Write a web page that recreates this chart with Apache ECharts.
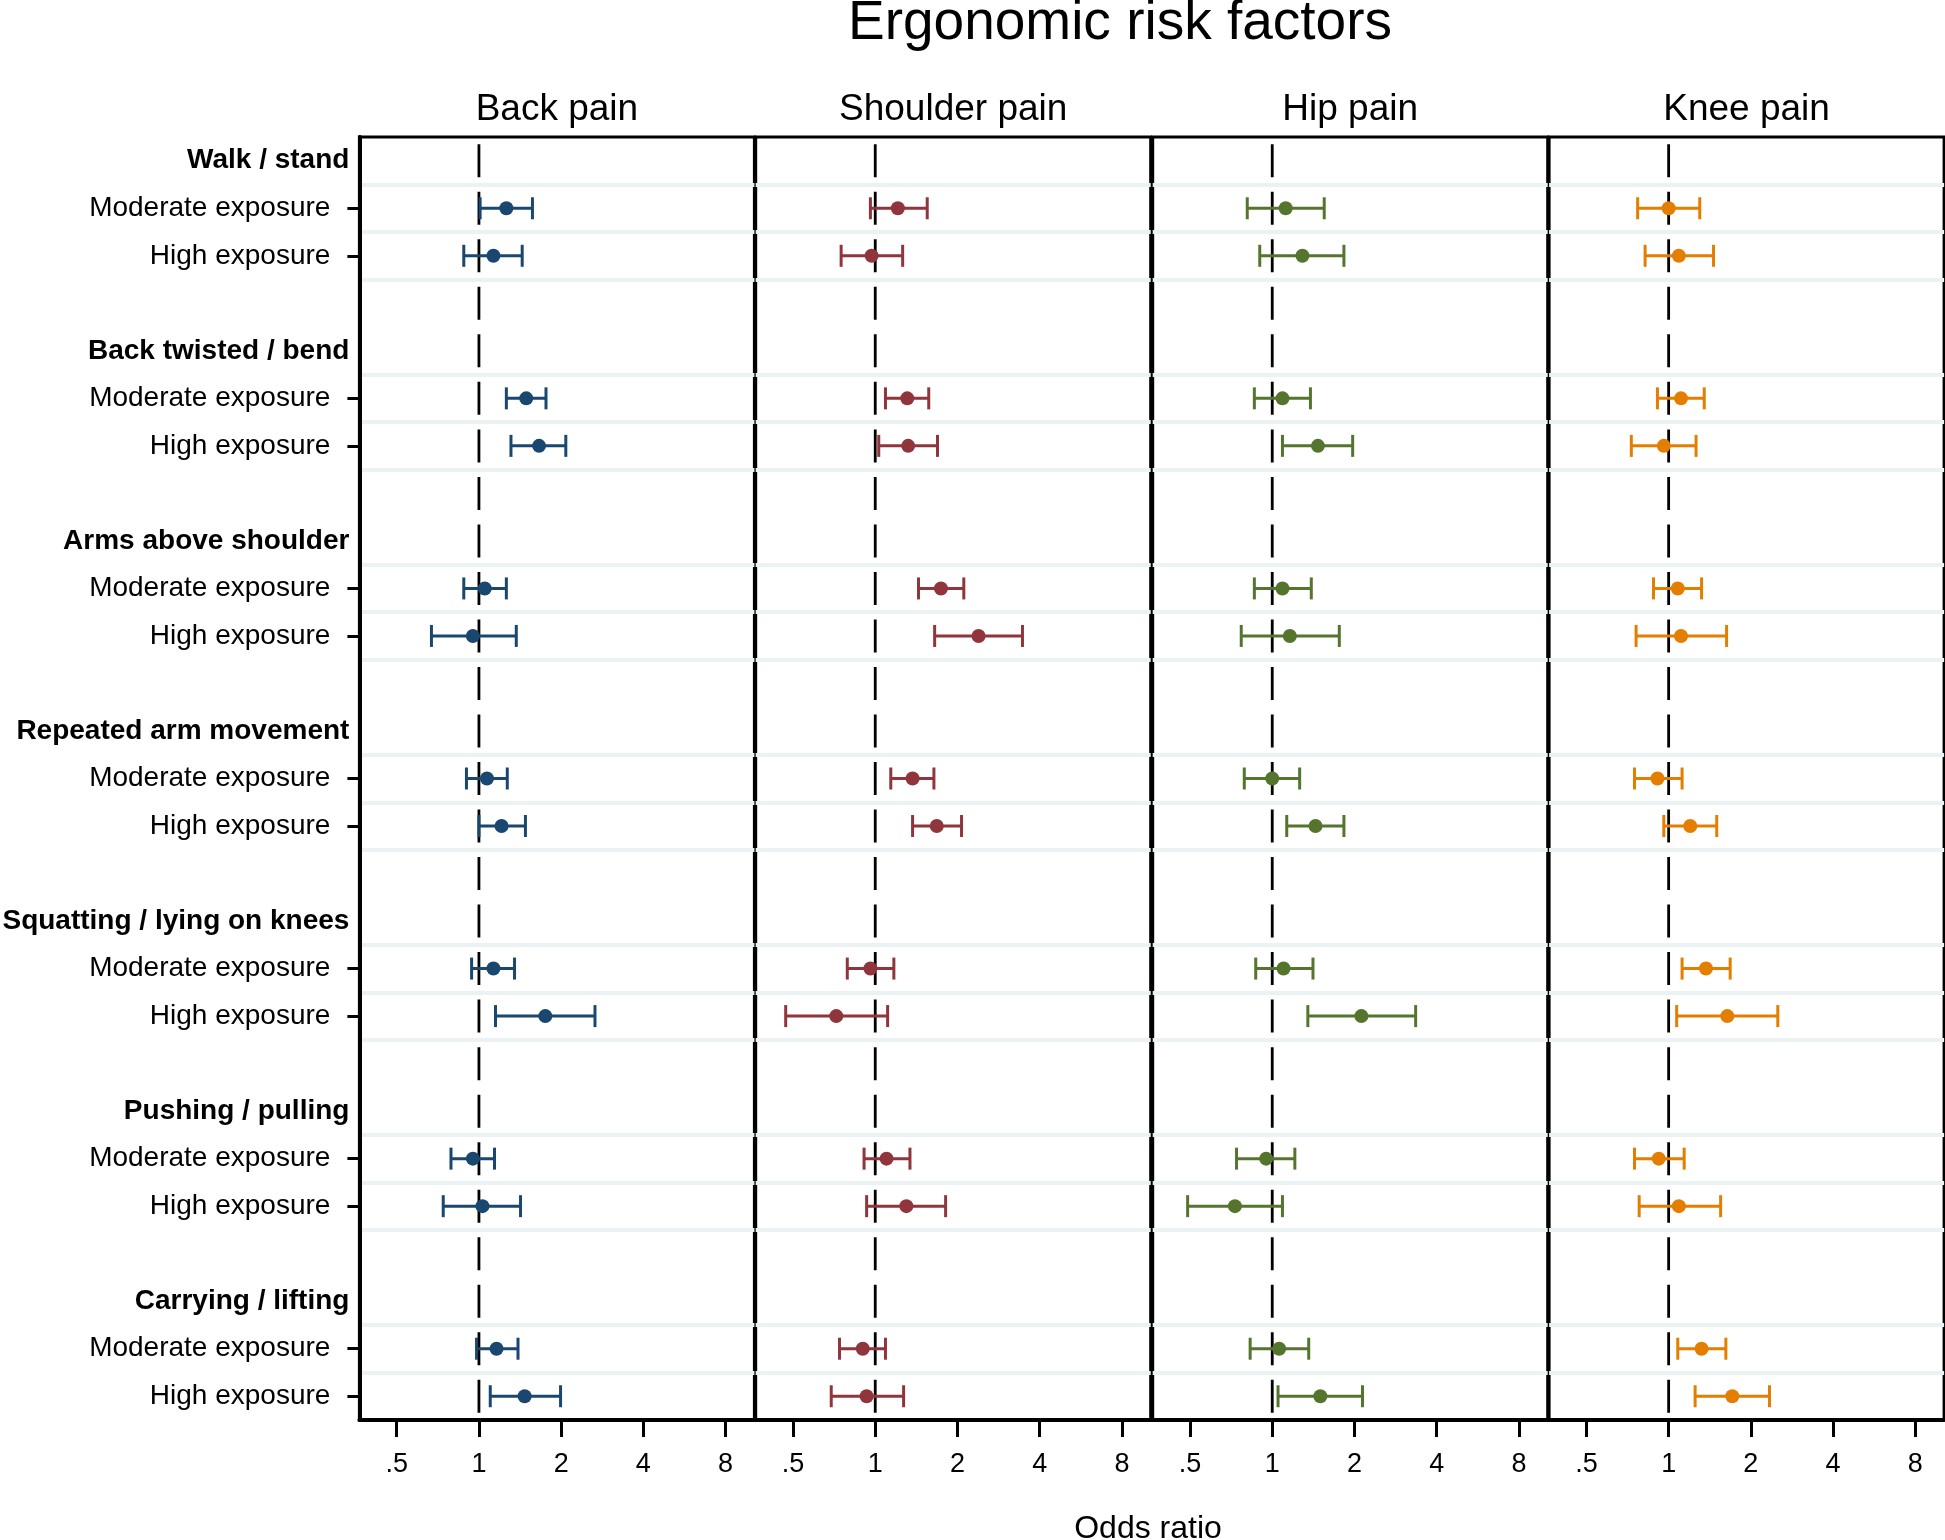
<!DOCTYPE html>
<html><head><meta charset="utf-8">
<script src="https://cdn.jsdelivr.net/npm/echarts@6/dist/echarts.min.js"></script>
<style>html,body{margin:0;padding:0;background:#fff}#c{width:1945px;height:1540px}#err{position:absolute;left:400px;top:300px;font:14px monospace;color:red;white-space:pre;z-index:9}</style>
</head><body><div id="c"></div><div id="err"></div>
<script>
window.onerror = function (m, s, l, c, e) { document.getElementById('err').textContent += (e && e.stack ? e.stack : m) + '\n'; };
// ---------- data ----------
const factors = ['Walk / stand','Back twisted / bend','Arms above shoulder','Repeated arm movement','Squatting / lying on knees','Pushing / pulling','Carrying / lifting'];
const exposures = ['Moderate exposure','High exposure'];
const outcomes = ['Back pain','Shoulder pain','Hip pain','Knee pain'];
const xTickValues = [0.5, 1, 2, 4, 8];
const nullOddsRatio = [1];
// order within each array: factor by factor, moderate then high
const backOR = [1.26,1.13, 1.49,1.66, 1.05,0.95, 1.07,1.21, 1.13,1.75, 0.95,1.03, 1.16,1.47];
const backLo = [1.01,0.88, 1.26,1.31, 0.88,0.67, 0.90,1.00, 0.94,1.15, 0.79,0.74, 0.98,1.10];
const backHi = [1.57,1.44, 1.76,2.08, 1.26,1.37, 1.27,1.48, 1.35,2.66, 1.14,1.42, 1.39,1.99];
const shoulderOR = [1.21,0.97, 1.31,1.32, 1.74,2.39, 1.37,1.68, 0.96,0.72, 1.10,1.30, 0.90,0.93];
const shoulderLo = [0.96,0.75, 1.09,1.03, 1.44,1.65, 1.14,1.37, 0.79,0.47, 0.91,0.93, 0.74,0.69];
const shoulderHi = [1.55,1.26, 1.57,1.69, 2.11,3.46, 1.64,2.07, 1.17,1.11, 1.34,1.81, 1.09,1.27];
const hipOR = [1.12,1.29, 1.09,1.47, 1.09,1.16, 1.00,1.44, 1.10,2.12, 0.95,0.73, 1.06,1.50];
const hipLo = [0.81,0.90, 0.86,1.09, 0.86,0.77, 0.79,1.13, 0.87,1.35, 0.74,0.49, 0.83,1.05];
const hipHi = [1.55,1.83, 1.38,1.97, 1.39,1.76, 1.26,1.83, 1.41,3.35, 1.21,1.09, 1.36,2.14];
const kneeOR = [1.00,1.09, 1.11,0.96, 1.08,1.11, 0.91,1.20, 1.37,1.64, 0.92,1.09, 1.32,1.71];
const kneeLo = [0.77,0.82, 0.91,0.73, 0.88,0.76, 0.75,0.96, 1.12,1.07, 0.75,0.78, 1.08,1.25];
const kneeHi = [1.30,1.46, 1.35,1.26, 1.32,1.63, 1.12,1.50, 1.68,2.51, 1.14,1.55, 1.62,2.34];

// ---------- build ----------
const panels = [
  {or: backOR, lo: backLo, hi: backHi, color: '#1a476f'},
  {or: shoulderOR, lo: shoulderLo, hi: shoulderHi, color: '#90353b'},
  {or: hipOR, lo: hipLo, hi: hipHi, color: '#55752f'},
  {or: kneeOR, lo: kneeLo, hi: kneeHi, color: '#e37e00'}
];
const rowKeys = [];
factors.forEach((f, g) => {
  rowKeys.push(f);
  exposures.forEach(e => rowKeys.push(f + '|' + e));
  if (g < factors.length - 1) rowKeys.push(f + '|');
});
function rowIndex(k) { const g = Math.floor(k / 2), e = k % 2; return 4 * g + 1 + e; }

const FONT = '"Liberation Sans", Arial, Helvetica, sans-serif';
const gridLefts = [359.4, 755.7, 1152.7, 1549.1];
const gridWidth = 395;
const gridTop = 137, gridHeight = 1283;
const xMin = 0.365, xMax = 10.2;

const grids = [], xAxes = [], yAxes = [], series = [], graphics = [];
gridLefts.forEach((L, i) => {
  grids.push({left: L, top: gridTop, width: gridWidth, height: gridHeight, show: true,
    borderColor: '#000', borderWidth: 3, backgroundColor: '#fff', containLabel: false, outerBoundsMode: 'none'});
  xAxes.push({type: 'log', logBase: 2, gridIndex: i, min: xMin, max: xMax,
    axisLine: {show: true, onZero: false, lineStyle: {color: '#000', width: 4}},
    axisTick: {show: true, length: 17, lineStyle: {color: '#000', width: 3}, customValues: xTickValues},
    axisLabel: {show: true, customValues: xTickValues, fontSize: 27, fontFamily: FONT, color: '#000', margin: 31,
      formatter: v => { const n = Number(v); return n < 1 ? String(n).replace(/^0/, '') : String(n); }},
    splitLine: {show: false}, minorTick: {show: false}});
  yAxes.push({type: 'category', gridIndex: i, data: rowKeys, inverse: true, boundaryGap: true,
    axisLine: {show: i === 0, lineStyle: {color: '#000', width: 4}},
    axisTick: {show: i === 0, alignWithLabel: true, interval: idx => (idx % 4 === 1 || idx % 4 === 2), length: 12,
      lineStyle: {color: '#000', width: 3}},
    axisLabel: {show: i === 0, interval: 0, margin: 10,
      formatter: v => { const p = v.split('|'); if (p.length === 1) return '{h|' + p[0] + '}'; return p[1] ? '{r|' + p[1] + '}' : ''; },
      rich: {h: {fontSize: 28, fontWeight: 'bold', fontFamily: FONT, color: '#000'},
             r: {fontSize: 28, fontFamily: FONT, color: '#000', padding: [0, 19, 0, 0]}}},
    splitLine: {show: true, interval: idx => idx % 4 !== 0, lineStyle: {color: '#eaf2f3', width: 4}}});

  const P = panels[i];
  const ciData = P.lo.map((lo, k) => [lo, P.hi[k], rowIndex(k)]);
  const ptData = P.or.map((v, k) => [v, rowIndex(k)]);
  const color = P.color;
  // reference line at OR = 1 spanning the whole panel
  series.push({type: 'custom', xAxisIndex: i, yAxisIndex: i, data: nullOddsRatio.map(v => [v, 0]),
    encode: {x: 0, y: 1}, z: 2, silent: true,
    renderItem: (params, api) => {
      const p = api.coord([api.value(0), api.value(1)]);
      const cs = params.coordSys;
      return {type: 'line', shape: {x1: p[0], y1: cs.y, x2: p[0], y2: cs.y + cs.height},
        style: {stroke: '#000', lineWidth: 2.8, lineDash: [33, 14.52], lineDashOffset: 40.26, fill: null}};
    }});
  series.push({type: 'custom', xAxisIndex: i, yAxisIndex: i, data: ciData, encode: {x: [0, 1], y: 2}, z: 3,
    renderItem: (params, api) => {
      const a = api.coord([api.value(0), api.value(2)]);
      const b = api.coord([api.value(1), api.value(2)]);
      const h = 11, st = {stroke: color, lineWidth: 3, fill: null};
      return {type: 'group', children: [
        {type: 'line', shape: {x1: a[0], y1: a[1], x2: b[0], y2: b[1]}, style: st},
        {type: 'line', shape: {x1: a[0], y1: a[1] - h, x2: a[0], y2: a[1] + h}, style: st},
        {type: 'line', shape: {x1: b[0], y1: b[1] - h, x2: b[0], y2: b[1] + h}, style: st}
      ]};
    }});
  series.push({type: 'scatter', xAxisIndex: i, yAxisIndex: i, data: ptData, symbol: 'circle', symbolSize: 14, z: 4,
    itemStyle: {color: color, opacity: 1}});
  graphics.push({type: 'text', x: L + gridWidth / 2, y: 110,
    style: {text: outcomes[i], font: '37px ' + FONT, fill: '#000', align: 'center', verticalAlign: 'middle', textAlign: 'center', textVerticalAlign: 'middle'}});
});
graphics.push({type: 'text', x: 1120, y: 24,
  style: {text: 'Ergonomic risk factors', font: '55px ' + FONT, fill: '#000', align: 'center', verticalAlign: 'middle', textAlign: 'center', textVerticalAlign: 'middle'}});
graphics.push({type: 'text', x: 1148, y: 1529,
  style: {text: 'Odds ratio', font: '32px ' + FONT, fill: '#000', align: 'center', verticalAlign: 'middle', textAlign: 'center', textVerticalAlign: 'middle'}});

try {
  const chart = echarts.init(document.getElementById('c'), null, {renderer: 'canvas'});
  chart.setOption({backgroundColor: '#fff', animation: false, grid: grids, xAxis: xAxes, yAxis: yAxes, series: series, graphic: graphics});
} catch (e) {
  document.getElementById('err').textContent += e.stack + '\n';
}
</script></body></html>
